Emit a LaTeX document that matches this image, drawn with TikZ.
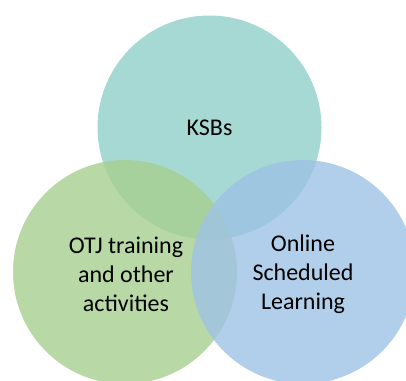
\documentclass[tikz,border=0pt]{standalone}
\usepackage{fontspec}
\setmainfont{Carlito}
\definecolor{ctop}{RGB}{167,217,212}
\definecolor{cleft}{RGB}{166,208,143}
\definecolor{cright}{RGB}{158,194,229}
\tikzset{
  venn/.style={circle, minimum size=224pt, inner sep=0pt, draw=none},
  lbl/.style={align=center, font=\fontsize{24pt}{29pt}\selectfont, text=black}
}
\begin{document}
\begin{tikzpicture}[x=1pt,y=-1pt]
\useasboundingbox (0,0) rectangle (406,380);
\clip (0,0) rectangle (406,380);
\node[venn, fill=ctop] (top) at (209.5,127.5) {};
\node[venn, fill=cleft, fill opacity=0.8] (left) at (125,272) {};
\node[venn, fill=cright, fill opacity=0.8] (right) at (303,272) {};
\node[lbl] (ksb) at (209.5,128) {KSBs};
\node[lbl] (otj) at (126,274) {OTJ training\\and other\\activities};
\node[lbl] (osl) at (303,274) {Online\\Scheduled\\Learning};
\end{tikzpicture}
\end{document}
